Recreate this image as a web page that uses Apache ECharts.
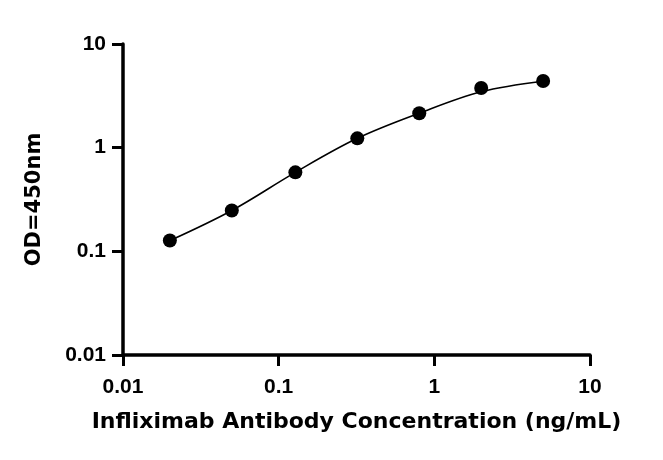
<!DOCTYPE html>
<html><head><meta charset="utf-8">
<script src="https://cdn.jsdelivr.net/npm/echarts@6/dist/echarts.min.js"></script>
<style>html,body{margin:0;padding:0;background:#fff}#c{width:663px;height:460px}</style>
</head><body><div id="c"></div>
<script>
const concentrations = [0.02, 0.05, 0.128, 0.32, 0.8, 2, 5];
const odValues = [0.127, 0.248, 0.578, 1.23, 2.15, 3.76, 4.39];
// fitted curve values at the same concentrations
const fitValues = [0.127, 0.248, 0.578, 1.23, 2.15, 3.46, 4.37];
const xTitle = 'Infliximab Antibody Concentration (ng/mL)';
const yTitle = 'OD=450nm';

const pts = concentrations.map((x, i) => [x, odValues[i]]);
const fit = concentrations.map((x, i) => [x, fitValues[i]]);
const chart = echarts.init(document.getElementById('c'));
const font = '"Liberation Sans", Arial, sans-serif';
const titleFont = '"DejaVu Sans", "Liberation Sans", sans-serif';
const axisCommon = {
  type: 'log', logBase: 10,
  axisLine: {show: true, onZero: false, lineStyle: {color: '#000', width: 3.5}},
  axisTick: {show: true, length: 11, lineStyle: {color: '#000', width: 3}},
  minorTick: {show: false},
  splitLine: {show: false},
  axisLabel: {color: '#000', fontSize: 21, fontWeight: 'bold', fontFamily: font,
    formatter: v => String(+v.toPrecision(3))},
  nameTextStyle: {color: '#000', fontSize: 22, fontWeight: 'bold', fontFamily: titleFont}
};
chart.setOption({
  animation: false,
  grid: {left: 123, right: 73, top: 44, bottom: 105, containLabel: false},
  xAxis: Object.assign({}, axisCommon, {min: 0.01, max: 10, name: xTitle,
    nameLocation: 'middle', nameGap: 56,
    axisLabel: Object.assign({}, axisCommon.axisLabel, {margin: 22})}),
  yAxis: Object.assign({}, axisCommon, {min: 0.01, max: 10, name: yTitle,
    nameLocation: 'middle', nameGap: 78,
    nameTextStyle: Object.assign({}, axisCommon.nameTextStyle, {fontSize: 21}),
    axisLabel: Object.assign({}, axisCommon.axisLabel, {margin: 17})}),
  series: [{
    type: 'line', data: fit, smooth: 0.35, showSymbol: false, symbol: 'none',
    lineStyle: {color: '#000', width: 1.6}, z: 2
  }, {
    type: 'scatter', data: pts, symbol: 'circle', symbolSize: 14,
    itemStyle: {color: '#000', opacity: 1}, z: 3
  }]
});
</script></body></html>
